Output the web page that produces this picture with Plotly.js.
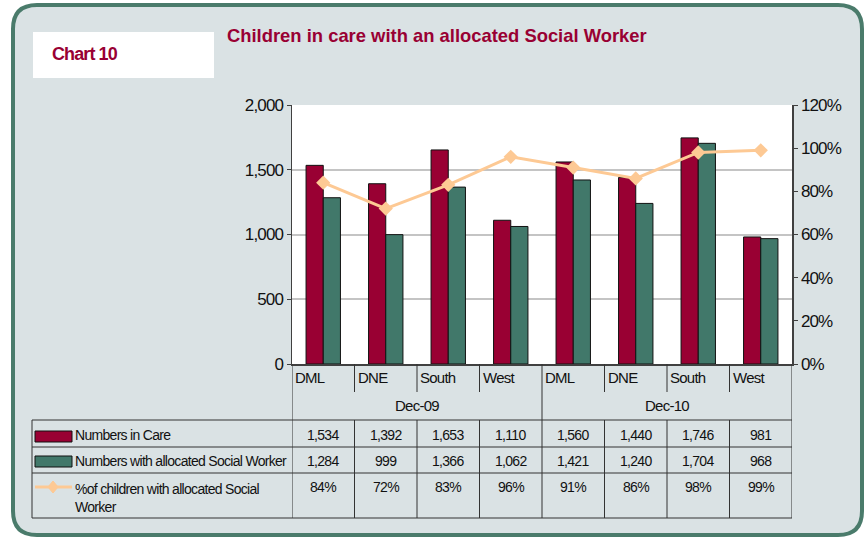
<!DOCTYPE html>
<html>
<head>
<meta charset="utf-8">
<script src="https://cdn.plot.ly/plotly-3.0.1.min.js"></script>
<style>
  body { margin: 0; padding: 0; background: #fff; }
  #chart { width: 867px; height: 540px; }
  /* condensed look of the original */
  text.annotation-text { letter-spacing: -0.05em; }
  .ytick text, .y2tick text { letter-spacing: -0.05em; }
</style>
</head>
<body>
<div id="chart"></div>
<script>
// chart data
var categories = ["DML", "DNE", "South", "West", "DML", "DNE", "South", "West"];
var periods = ["Dec-09", "Dec-10"];
var inCare = [1534, 1392, 1653, 1110, 1560, 1440, 1746, 981];
var allocated = [1284, 999, 1366, 1062, 1421, 1240, 1704, 968];
var pctAllocated = [84, 72, 83, 96, 91, 86, 98, 99];
var seriesNames = ["Numbers in Care", "Numbers with allocated Social Worker", "%of children with allocated Social<br>Worker"];

var MAROON = "#990033";
var GREEN = "#41786a";
var PEACH = "#fdc994";
var FONT = "Liberation Sans, Arial, sans-serif";

// plot area in pixels: x 292..792, y 105..364
function px(x){ return (x - 292) / 500; }
function py(y){ return (364 - y) / 259; }

var idx = categories.map(function(c, i){ return i; });

var traces = [
  {type: "bar", x: idx, y: inCare, name: seriesNames[0],
   marker: {color: MAROON, line: {color: "#111", width: 1}}, hoverinfo: "y"},
  {type: "bar", x: idx, y: allocated, name: seriesNames[1],
   marker: {color: GREEN, line: {color: "#111", width: 1}}, hoverinfo: "y"},
  {type: "scatter", mode: "lines+markers", x: idx, y: pctAllocated, yaxis: "y2",
   name: "%", line: {color: PEACH, width: 3},
   marker: {symbol: "diamond", size: 11, color: PEACH}, hoverinfo: "y"}
];

// rounded rectangle path in paper coords (pixel input)
function rr(x0, y0, x1, y1, r){
  return "M" + px(x0 + r) + "," + py(y0) +
    " L" + px(x1 - r) + "," + py(y0) +
    " Q" + px(x1) + "," + py(y0) + " " + px(x1) + "," + py(y0 + r) +
    " L" + px(x1) + "," + py(y1 - r) +
    " Q" + px(x1) + "," + py(y1) + " " + px(x1 - r) + "," + py(y1) +
    " L" + px(x0 + r) + "," + py(y1) +
    " Q" + px(x0) + "," + py(y1) + " " + px(x0) + "," + py(y1 - r) +
    " L" + px(x0) + "," + py(y0 + r) +
    " Q" + px(x0) + "," + py(y0) + " " + px(x0 + r) + "," + py(y0) + " Z";
}
function outer(){
  return "M" + px(-2) + "," + py(-2) + " L" + px(870) + "," + py(-2) +
    " L" + px(870) + "," + py(543) + " L" + px(-2) + "," + py(543) + " Z ";
}

var shapes = [];
// white outside frame, green rounded border
shapes.push({type: "path", xref: "paper", yref: "paper", path: outer() + rr(13, 5, 862, 535, 24),
  fillrule: "evenodd", fillcolor: "#ffffff", line: {width: 0}});
shapes.push({type: "path", xref: "paper", yref: "paper", path: rr(13, 5, 862, 535, 24),
  line: {color: "#4a7b6b", width: 4}});
// Chart 10 box
shapes.push({type: "rect", xref: "paper", yref: "paper", x0: px(33), x1: px(214), y0: py(32), y1: py(78),
  fillcolor: "#ffffff", line: {width: 0}});

// table lines
var LC = "#333333";
function hline(y, x0, x1){
  shapes.push({type: "line", xref: "paper", yref: "paper", x0: px(x0), x1: px(x1), y0: py(y), y1: py(y),
    line: {color: LC, width: 1}});
}
function vlineX(xv, y0, y1){
  shapes.push({type: "line", xref: "x", yref: "paper", x0: xv, x1: xv, y0: py(y0), y1: py(y1),
    line: {color: LC, width: 1}});
}
hline(420, 32, 792);
hline(447, 32, 792);
hline(473, 32, 792);
hline(518, 32, 792);
shapes.push({type: "line", xref: "paper", yref: "paper", x0: px(32), x1: px(32), y0: py(420), y1: py(518),
  line: {color: LC, width: 1}});
idx.forEach(function(i){
  if (i === 0) {
    vlineX(-0.5, 364, 518);
  } else if (i === categories.length / 2) {
    vlineX(i - 0.5, 364, 518);
  } else {
    vlineX(i - 0.5, 364, 392);
    vlineX(i - 0.5, 420, 518);
  }
});
vlineX(categories.length - 0.5, 364, 518);

// legend keys in the table
shapes.push({type: "rect", xref: "paper", yref: "paper", x0: px(35), x1: px(72), y0: py(431), y1: py(442),
  fillcolor: MAROON, line: {color: "#111", width: 1}});
shapes.push({type: "rect", xref: "paper", yref: "paper", x0: px(35), x1: px(72), y0: py(456), y1: py(467),
  fillcolor: GREEN, line: {color: "#111", width: 1}});
shapes.push({type: "line", xref: "paper", yref: "paper", x0: px(35), x1: px(72), y0: py(487), y1: py(487),
  line: {color: PEACH, width: 3}});
shapes.push({type: "path", xref: "paper", yref: "paper",
  path: "M" + px(53) + "," + py(481) + " L" + px(58) + "," + py(487) + " L" + px(53) + "," + py(493) +
        " L" + px(48) + "," + py(487) + " Z",
  fillcolor: PEACH, line: {color: PEACH, width: 1}});

var annotations = [];
function txt(t, x, y, opts){
  var a = {text: t, x: x, y: y, xref: "paper", yref: "paper", showarrow: false,
    xanchor: "left", yanchor: "middle", font: {family: FONT, size: 14, color: "#111"}};
  for (var k in opts) a[k] = opts[k];
  annotations.push(a);
}
txt("<b>Chart 10</b>", px(50), py(54), {font: {family: FONT, size: 18, color: MAROON}});

// category labels and period labels
categories.forEach(function(c, i){
  annotations.push({text: c, x: i - 0.5, y: py(377), xref: "x", yref: "paper", showarrow: false,
    xanchor: "left", yanchor: "middle", xshift: 1, font: {family: FONT, size: 15, color: "#111"}});
});
periods.forEach(function(p, j){
  var n = categories.length / periods.length;
  annotations.push({text: p, x: j * n + (n - 1) / 2, y: py(405), xref: "x", yref: "paper", showarrow: false,
    xanchor: "center", yanchor: "middle", font: {family: FONT, size: 15, color: "#111"}});
});

// table text
txt(seriesNames[0], px(73), py(435), {});
txt(seriesNames[1], px(73), py(461), {});
txt(seriesNames[2], px(73), py(498), {align: "left", yanchor: "middle"});
function fmt(v){ return v.toLocaleString("en-US"); }
idx.forEach(function(i){
  var cell = {xref: "x", yref: "paper", showarrow: false, xanchor: "center", yanchor: "middle",
    font: {family: FONT, size: 14, color: "#111"}};
  annotations.push(Object.assign({text: fmt(inCare[i]), x: i, y: py(435)}, cell));
  annotations.push(Object.assign({text: fmt(allocated[i]), x: i, y: py(461)}, cell));
  annotations.push(Object.assign({text: pctAllocated[i] + "%", x: i, y: py(487)}, cell));
});

var layout = {
  width: 867, height: 540,
  margin: {l: 292, r: 75, t: 105, b: 176, pad: 0},
  paper_bgcolor: "#dae2e4",
  plot_bgcolor: "#ffffff",
  font: {family: FONT, size: 16, color: "#111"},
  title: {text: "<b>Children in care with an allocated Social Worker</b>",
    xref: "container", yref: "container", x: 227 / 867, xanchor: "left",
    y: 1 - 36 / 540, yanchor: "middle", font: {family: FONT, size: 18.4, color: MAROON}},
  showlegend: false,
  barmode: "group",
  bargap: 0.45,
  bargroupgap: 0,
  xaxis: {range: [-0.5, 7.5], showticklabels: false, showgrid: false, zeroline: false,
    showline: true, linecolor: "#404040", linewidth: 1.5, ticks: "", fixedrange: true},
  yaxis: {range: [0, 2000], dtick: 500, tickformat: ",d", showgrid: true, gridcolor: "#c4c4c4",
    gridwidth: 2, zeroline: false, showline: true, linecolor: "#404040", linewidth: 1.5,
    ticks: "outside", ticklen: 4, tickcolor: "#404040", fixedrange: true,
    tickfont: {family: FONT, size: 17, color: "#111"}},
  yaxis2: {range: [0, 120], dtick: 20, ticksuffix: "%", overlaying: "y", side: "right",
    showgrid: false, zeroline: false, showline: true, linecolor: "#404040", linewidth: 1.5,
    ticks: "outside", ticklen: 4, tickcolor: "#404040", fixedrange: true,
    tickfont: {family: FONT, size: 17, color: "#111"}},
  shapes: shapes,
  annotations: annotations
};

Plotly.newPlot("chart", traces, layout, {displayModeBar: false, staticPlot: true});
</script>
</body>
</html>
